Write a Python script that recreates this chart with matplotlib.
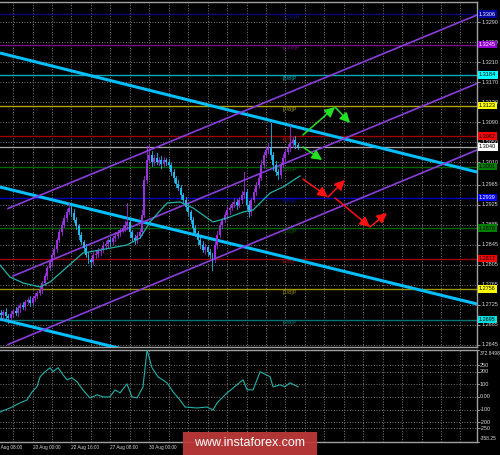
import numpy as np
import matplotlib
matplotlib.use('Agg')
import matplotlib.pyplot as plt
from matplotlib.patches import Rectangle

plt.rcParams['font.family'] = ['Liberation Sans', 'DejaVu Sans']

# ---------------- data ----------------
first_open = 1.2708
closes = [1.2704, 1.2710, 1.2702, 1.2698, 1.2706, 1.2712, 1.2708, 1.2718, 1.2724, 1.2720,
          1.2730, 1.2734, 1.2728, 1.2738, 1.2742, 1.2748, 1.2754, 1.2768, 1.2782, 1.2798,
          1.2810, 1.2824, 1.2836, 1.2854, 1.2870, 1.2884, 1.2898, 1.2910, 1.2918, 1.2908,
          1.2894, 1.2882, 1.2864, 1.2850, 1.2838, 1.2824, 1.2814, 1.2810, 1.2824, 1.2826,
          1.2832, 1.2834, 1.2842, 1.2846, 1.2854, 1.2850, 1.2858, 1.2862, 1.2868, 1.2874,
          1.2878, 1.2884, 1.2890, 1.2870, 1.2858, 1.2854, 1.2862, 1.2870, 1.2904, 1.2974,
          1.3014, 1.3024, 1.3010, 1.3018, 1.3010, 1.3014, 1.3006, 1.3014, 1.3010, 1.3004,
          1.2990, 1.2978, 1.2966, 1.2958, 1.2944, 1.2934, 1.2920, 1.2910, 1.2894, 1.2878,
          1.2868, 1.2854, 1.2844, 1.2834, 1.2840, 1.2830, 1.2824, 1.2818, 1.2844, 1.2864,
          1.2884, 1.2894, 1.2904, 1.2914, 1.2918, 1.2926, 1.2930, 1.2924, 1.2934, 1.2944,
          1.2950, 1.2924, 1.2910, 1.2934, 1.2950, 1.2964, 1.2978, 1.3004, 1.3024, 1.3034,
          1.3038, 1.3024, 1.3004, 1.2990, 1.2984, 1.3004, 1.3018, 1.3030, 1.3038, 1.3048,
          1.3054, 1.3044, 1.3040]
up_wick_pips = [6, 4, 8, 4, 6, 4, 8, 6, 4, 6,
                4, 6, 8, 4, 6, 4, 6, 4, 6, 4,
                6, 4, 6, 4, 6, 8, 6, 6, 10, 6,
                8, 6, 4, 6, 4, 8, 6, 4, 6, 8,
                6, 4, 8, 6, 4, 6, 4, 8, 6, 4,
                6, 8, 38, 6, 4, 6, 8, 6, 10, 8,
                28, 20, 8, 6, 10, 6, 8, 6, 4, 6,
                4, 6, 4, 8, 6, 4, 6, 8, 4, 6,
                6, 4, 6, 8, 6, 4, 6, 4, 6, 8,
                6, 4, 6, 8, 6, 4, 8, 6, 6, 8,
                40, 6, 8, 4, 6, 6, 8, 10, 6, 8,
                10, 50, 6, 8, 6, 4, 8, 6, 8, 36,
                6, 8, 4]
dn_wick_pips = [6, 8, 6, 10, 4, 6, 4, 6, 8, 4,
                6, 4, 6, 4, 6, 4, 4, 6, 4, 6,
                4, 6, 4, 6, 4, 6, 4, 6, 4, 6,
                4, 6, 8, 4, 6, 4, 6, 10, 4, 6,
                6, 8, 4, 6, 6, 8, 4, 6, 4, 6,
                4, 6, 8, 10, 6, 8, 6, 4, 6, 4,
                6, 4, 8, 6, 4, 6, 8, 4, 6, 6,
                6, 8, 6, 4, 8, 6, 6, 8, 6, 8,
                6, 8, 6, 4, 8, 6, 6, 24, 8, 6,
                4, 6, 4, 6, 8, 4, 6, 8, 4, 6,
                6, 8, 10, 6, 4, 6, 6, 4, 6, 4,
                6, 8, 10, 6, 8, 6, 4, 6, 4, 6,
                8, 6, 4]

ma_bars = [-0.4, 3.7, 9.1, 16.1, 20.2, 27.2, 33.7, 40.7, 51.8, 57.2, 61.3, 68.3,
           73.6, 79.0, 81.9, 87.2, 93.0, 99.6, 103.7, 110.7, 116.0, 123.0]
ma_vals = [1.2804, 1.2780, 1.2768, 1.2760, 1.2770, 1.2800, 1.2828, 1.2834, 1.2844, 1.2858,
           1.2890, 1.2928, 1.2930, 1.2918, 1.2908, 1.2890, 1.2898, 1.2910, 1.2914, 1.2948,
           1.2960, 1.2982]

cci_bars = [-0.4, 3.7, 7.8, 10.7, 12.8, 14.8, 16.1, 18.1, 20.2, 21.4, 23.5, 25.5, 27.2,
            29.2, 31.3, 33.7, 36.6, 39.5, 42.0, 44.8, 46.9, 49.0, 51.8, 53.9, 56.0, 58.4,
            60.1, 62.1, 64.6, 68.3, 70.8, 73.6, 75.7, 80.6, 84.7, 87.2, 88.9, 90.1, 93.0,
            99.6, 101.2, 103.7, 106.6, 110.7, 111.9, 114.8, 116.8, 118.9, 122.2]
cci_vals = [-120, -88, -48, -24, 40, 80, 160, 200, 232, 200, 232, 176, 136,
            152, 120, 56, -8, 16, 0, 0, 56, 32, 104, 0, -8, 80,
            372.8, 232, 160, 112, 40, -24, -80, -88, -80, -104, -48, -24, 32,
            136, 56, 56, 200, 160, 80, 96, 80, 112, 80]

levels = [1.3306, 1.3245, 1.3184, 1.3123, 1.3062, 1.3001, 1.2939, 1.2878, 1.2817, 1.2756, 1.2695]
level_names = ['[+2/8]P', '[+1/8]P', '[8/8]P', '[7/8]P', '[6/8]P', '[5/8]P', '[4/8]P',
               '[3/8]P', '[2/8]P', '[1/8]P', '[0/8]P']
level_line_colors = ['#0a0a78', '#7a0a8a', '#00a8b8', '#b0a400', '#a00000', '#006400',
                     '#0000c0', '#006400', '#a00000', '#a09400', '#007878']
level_box_colors = ['#0000a0', '#9400d3', '#00ffff', '#ffff00', '#ff0000', '#008000',
                    '#0000ff', '#008000', '#ff0000', '#ffff00', '#00e0e0']
level_box_text = ['white', 'white', 'black', 'black', 'black', 'black',
                  'white', 'black', 'black', 'black', 'black']
current_price = 1.3040

price_tick_labels = ['1.3290', '1.3250', '1.3210', '1.3170', '1.3130', '1.3090', '1.3050',
                     '1.3010', '1.2965', '1.2925', '1.2885', '1.2845', '1.2805', '1.2765',
                     '1.2725', '1.2685', '1.2645']
cci_tick_vals = [372.8498, 250, 200, 100, 0, -100, -200, -250, -358.25]
cci_tick_labels = ['372.8498', '250', '200', '100', '0.00', '-100', '-200', '-250', '-358.25']
cci_grid_vals = [250, 200, 100, 0, -100, -200, -250]

# visible time labels (the later ones are hidden under the watermark in the reference)
date_bars = [-3, 13, 29, 45, 61]
date_labels = ['15 Aug 08:00', '20 Aug 00:00', '22 Aug 16:00', '27 Aug 08:00', '30 Aug 00:00']

# trend lines: (bar0, price0, bar1, price1)
cyan_lines = [(-0.4, 1.3228, 195.8, 1.2990),
              (-0.4, 1.2960, 195.8, 1.2726),
              (-0.4, 1.2696, 195.8, 1.2462)]
purple_lines = [(2.9, 1.2917, 195.8, 1.3304),
                (5.0, 1.2782, 195.8, 1.3167),
                (2.9, 1.2645, 195.8, 1.3034)]

green_arrows = [(124.2, 1.3064, 137.4, 1.3120), (137.4, 1.3120, 143.6, 1.3088),
                (124.2, 1.3040, 132.1, 1.3014)]
red_arrows = [(124.2, 1.2976, 134.5, 1.2940), (134.5, 1.2940, 141.5, 1.2974),
              (137.4, 1.2938, 151.8, 1.2880), (151.8, 1.2880, 158.8, 1.2908)]

# ---------------- figure ----------------
W, H = 500, 455
fig = plt.figure(figsize=(5.0, 4.55), dpi=100, facecolor='black')
XL = (-0.4, 195.8)
grid_bars = np.arange(5, 196, 8)
gcol = '#8c8c8c'
gls = (0, (1.2, 2.0))
FS = 4.0
txtc = '#d8d8d8'

ax = fig.add_axes([0, 1 - 347 / H, 477 / W, 345 / H])
ax.set_facecolor('black')
ax.set_xlim(*XL)
ax.set_ylim(1.2640, 1.3330)
for s in ['top', 'bottom', 'right']:
    ax.spines[s].set_color('#a0a0a0')
    ax.spines[s].set_linewidth(1.0)
ax.spines['left'].set_visible(False)
ax.set_xticks([])
ax.yaxis.tick_right()
tick_pos = [float(t) for t in price_tick_labels]
ax.set_yticks(tick_pos)
ax.set_yticklabels(price_tick_labels)
ax.tick_params(axis='y', colors=txtc, labelsize=FS, length=2, width=0.5, pad=1.5)

for p in tick_pos:
    ax.axhline(p, color=gcol, lw=0.6, ls=gls, zorder=0.5)
for b in grid_bars:
    ax.axvline(b, color=gcol, lw=0.6, ls=gls, zorder=0.5)

# Murrey levels
for lv, nm, lc in zip(levels, level_names, level_line_colors):
    ax.axhline(lv, color=lc, lw=1.0, zorder=1)
    ax.text(116, lv - 0.0002, nm, color=lc, fontsize=FS, va='top', ha='left', zorder=2)
ax.axhline(current_price, color='#a8a8a8', lw=0.9, zorder=1)

# trend lines
for b0, p0, b1, p1 in cyan_lines:
    ax.plot([b0, b1], [p0, p1], color='#00bfff', lw=2.2, zorder=3, solid_capstyle='butt')
for b0, p0, b1, p1 in purple_lines:
    ax.plot([b0, b1], [p0, p1], color='#8a3ddc', lw=1.2, zorder=3)

# candles
opens = [first_open] + closes[:-1]
for i, (o, c) in enumerate(zip(opens, closes)):
    hi = max(o, c) + up_wick_pips[i] * 1e-4
    lo = min(o, c) - dn_wick_pips[i] * 1e-4
    col = '#9b30e0' if c >= o else '#20b8f0'
    ax.plot([i, i], [lo, hi], color=col, lw=0.6, zorder=4)
    ax.add_patch(Rectangle((i - 0.4, min(o, c)), 0.8, max(abs(c - o), 0.00015),
                           facecolor=col, edgecolor='none', zorder=4))

# moving average
ax.plot(ma_bars, ma_vals, color='#20b2aa', lw=0.9, zorder=5)

# arrows
for arrows, acol in ((green_arrows, '#22e022'), (red_arrows, '#ff1010')):
    for b0, p0, b1, p1 in arrows:
        ax.annotate('', xy=(b1, p1), xytext=(b0, p0),
                    arrowprops=dict(arrowstyle='-|>,head_length=0.6,head_width=0.3',
                                    color=acol, lw=1.1, shrinkA=0, shrinkB=0), zorder=6)

# right price boxes
for lv, bc, tc in zip(levels + [current_price], level_box_colors + ['#ffffff'],
                      level_box_text + ['black']):
    ax.text(1.004, lv, f'{lv:.4f}', transform=ax.get_yaxis_transform(), color=tc,
            fontsize=FS, va='center', ha='left', zorder=10, clip_on=False,
            bbox=dict(boxstyle='square,pad=0.25', facecolor=bc, edgecolor='none'))

# ---------------- CCI panel ----------------
ax2 = fig.add_axes([0, 1 - 442 / H, 477 / W, 92 / H])
ax2.set_facecolor('black')
ax2.set_xlim(*XL)
ax2.set_ylim(-358.25, 372.85)
for s in ['top', 'bottom', 'right']:
    ax2.spines[s].set_color('#a0a0a0')
    ax2.spines[s].set_linewidth(1.0)
ax2.spines['left'].set_visible(False)
ax2.set_xticks([])
ax2.set_yticks([])
for v, lab in zip(cci_tick_vals, cci_tick_labels):
    yv = min(max(v, -330), 345)
    fs = 3.6 if len(lab) > 6 else FS
    ax2.text(1.006, yv, lab, transform=ax2.get_yaxis_transform(), color=txtc,
             fontsize=fs, va='center', ha='left', clip_on=False)
    ax2.plot([1.0, 1.005], [v, v], transform=ax2.get_yaxis_transform(), color=txtc,
             lw=0.5, clip_on=False)
for v in cci_grid_vals:
    ax2.axhline(v, color=gcol, lw=0.6, ls=gls, zorder=0.5)
for b in grid_bars:
    ax2.axvline(b, color=gcol, lw=0.6, ls=gls, zorder=0.5)
ax2.plot(cci_bars, cci_vals, color='#20b2aa', lw=0.8, zorder=3)

for b, lab in zip(date_bars, date_labels):
    ax2.text(b, -0.065, lab, transform=ax2.get_xaxis_transform(), color=txtc,
             fontsize=3.4, ha='left', va='center', clip_on=False)

# watermark
fig.add_artist(Rectangle((183 / W, 0), (317 - 183) / W, 23 / H, transform=fig.transFigure,
                         facecolor='#c23a3a', edgecolor='none', alpha=0.92, zorder=20))
fig.text(250 / W, 11.5 / H, 'www.instaforex.com', color='white', fontsize=9,
         ha='center', va='center', zorder=21)

fig.savefig('out.png', dpi=100, facecolor='black')
